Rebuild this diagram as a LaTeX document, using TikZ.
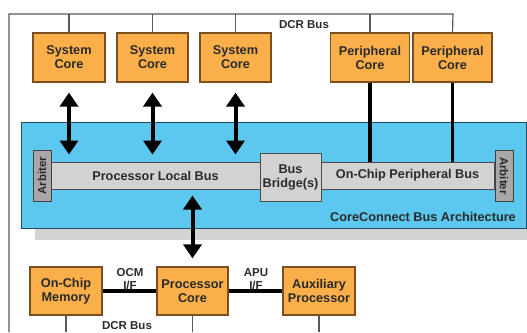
\documentclass[tikz,border=0pt]{standalone}
\usepackage{fontspec}
\setmainfont{Liberation Sans}
\usetikzlibrary{arrows.meta}

\definecolor{coreorange}{HTML}{FBAF4A}
\definecolor{coreedge}{HTML}{7A5020}
\definecolor{ccblue}{HTML}{5CC8F0}
\definecolor{ccedge}{HTML}{1E4E66}
\definecolor{busgray}{HTML}{D2D2D2}
\definecolor{arbgray}{HTML}{A8A8A8}
\definecolor{shadowgray}{HTML}{D4D4D4}
\definecolor{txt}{HTML}{2A2A2A}

\tikzset{
    core/.style={draw=coreedge, line width=1.2pt, fill=coreorange, text=txt,
        font=\fontsize{12.7}{14}\selectfont\bfseries, align=center, inner sep=0pt},
    bus/.style={draw=black!70, line width=1pt, fill=busgray, text=txt,
        font=\fontsize{12.7}{14}\selectfont\bfseries, align=center, inner sep=0pt},
    arb/.style={draw=black!75, line width=1pt, fill=arbgray, text=txt,
        font=\fontsize{11.5}{12}\selectfont\bfseries, inner sep=0pt},
    lbl/.style={text=txt, font=\fontsize{11.5}{12.5}\selectfont\bfseries, align=center, inner sep=0pt},
    dcr/.style={draw=black!65, line width=1.2pt},
    dbl/.style={line width=4pt, {Triangle[width=18pt,length=14pt]}-{Triangle[width=18pt,length=14pt]}},
    thickline/.style={line width=3.5pt}
}

\begin{document}
\begin{tikzpicture}[x=1pt, y=-1pt]
    \useasboundingbox (0,0) rectangle (527,332);
    \coordinate (dcrleft) at (9,14);
    \coordinate (dcrright) at (453,14);
    \coordinate (dcrbottom) at (9,332);
    % bus architecture box with its shadow
    \fill[shadowgray] (35,134) rectangle (527,240);
    \filldraw[fill=ccblue, draw=ccedge, line width=1pt] (21,122) rectangle (526,228);
    \node[lbl, anchor=east, font=\fontsize{12.7}{14}\selectfont\bfseries] (ccname) at (516,217) {CoreConnect Bus Architecture};
    % buses, bridge and arbiters
    \node[bus, minimum width=209pt, minimum height=27pt] (plb) at (155.5,175.5) {Processor Local Bus};
    \node[bus, minimum width=173pt, minimum height=27pt] (opb) at (407.5,175.5) {On-Chip Peripheral Bus};
    \node[bus, minimum width=61pt, minimum height=48pt] (bridge) at (290.5,177) {Bus\\Bridge(s)};
    \node[arb, minimum width=18pt, minimum height=51pt] (arbl) at (42,175.5) {\rotatebox{90}{Arbiter}};
    \node[arb, minimum width=18pt, minimum height=51pt] (arbr) at (504,176) {\rotatebox{-90}{Arbiter}};
    % cores on top
    \node[core, minimum width=72pt, minimum height=49pt] (sysa) at (69,57.5) {System\\Core};
    \node[core, minimum width=71pt, minimum height=49pt] (sysb) at (152.5,57.5) {System\\Core};
    \node[core, minimum width=71pt, minimum height=49pt] (sysc) at (235.5,57.5) {System\\Core};
    \node[core, minimum width=79pt, minimum height=49pt] (pera) at (370,57.5) {Peripheral\\Core};
    \node[core, minimum width=79pt, minimum height=49pt] (perb) at (452.5,57.5) {Peripheral\\Core};
    % cores below
    \node[core, minimum width=72pt, minimum height=48pt] (ocm) at (66,291) {On-Chip\\Memory};
    \node[core, minimum width=71pt, minimum height=48pt] (proc) at (192.5,291) {Processor\\Core};
    \node[core, minimum width=72pt, minimum height=48pt] (aux) at (319,291) {Auxiliary\\Processor};
    % DCR bus
    \draw[dcr] (dcrbottom) -- (dcrleft) -- (dcrright) -- (perb.north);
    \foreach \c in {sysa, sysb, sysc, pera}
        \draw[dcr] (\c.north |- dcrleft) -- (\c.north);
    \node[lbl] (dcrtop) at (304,25) {DCR Bus};
    \foreach \c in {ocm, proc, aux}
        \draw[dcr] (\c.south) -- (\c.south |- dcrbottom);
    \node[lbl] (dcrlow) at (127,325.5) {DCR Bus};
    % links to the buses
    \foreach \c in {sysa, sysb, sysc}
        \draw[dbl, shorten <=10pt, shorten >=7pt] (\c.south) -- (\c.south |- plb.north);
    \foreach \c in {pera, perb}
        \draw[thickline] (\c.south) -- (\c.south |- opb.north);
    \draw[dbl, shorten <=8pt, shorten >=6pt] (proc.north) -- (proc.north |- plb.south);
    \draw[thickline] (ocm.east) -- (proc.west);
    \draw[thickline] (proc.east) -- (aux.west);
    \node[lbl] (ocmif) at (130,279) {OCM\\I/F};
    \node[lbl] (apuif) at (256,279) {APU\\I/F};
\end{tikzpicture}
\end{document}
